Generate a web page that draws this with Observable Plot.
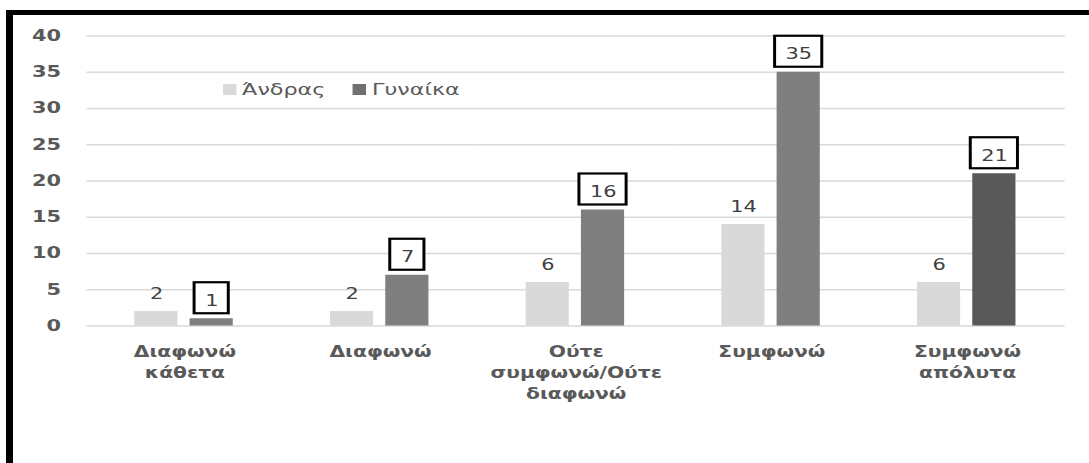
<!DOCTYPE html>
<html>
<head>
<meta charset="utf-8">
<script src="https://cdn.jsdelivr.net/npm/d3@7"></script>
<script src="https://cdn.jsdelivr.net/npm/@observablehq/plot@0.6"></script>
<style>
  html, body { margin: 0; padding: 0; background: #fff; }
  #wrap { position: relative; width: 1089px; height: 463px; overflow: hidden; }
  #wrap svg { position: absolute; left: 0; top: 0; }
  #frame { position: absolute; left: 6px; top: 10px; right: 0; bottom: 0;
           border-left: 7px solid #000; border-top: 5px solid #000; pointer-events: none; }
  #legend { position: absolute; left: 223px; top: 80px; transform-origin: 0 0;
            font-family: "DejaVu Sans", sans-serif; font-size: 16.5px; color: #595959; }
  #legend .sw { position: absolute; top: 4px; width: 10px; height: 11px; }
  #legend .lb { position: absolute; top: 0; white-space: nowrap; line-height: 19px; }
</style>
</head>
<body>
<div id="wrap"><div id="legend"></div><div id="frame"></div></div>
<script>
// Survey answers by gender
const categories = ["Διαφωνώ κάθετα", "Διαφωνώ", "Ούτε συμφωνώ/Ούτε διαφωνώ", "Συμφωνώ", "Συμφωνώ απόλυτα"];
const categoryLabels = ["Διαφωνώ\nκάθετα", "Διαφωνώ", "Ούτε\nσυμφωνώ/Ούτε\nδιαφωνώ", "Συμφωνώ", "Συμφωνώ\nαπόλυτα"];
const series = ["Άνδρας", "Γυναίκα"];
const andras = [2, 2, 6, 14, 6];
const gynaika = [1, 7, 16, 35, 21];
const yTicks = [0, 5, 10, 15, 20, 25, 30, 35, 40];

// Long-format table for the grouped bars
const rows = [];
categories.forEach((c, i) => {
  rows.push({category: c, gender: series[0], value: andras[i]});
  rows.push({category: c, gender: series[1], value: gynaika[i]});
});

const LIGHT = "#d9d9d9", MID = "#7f7f7f", DARK = "#595959";
const barFill = d => d.gender === series[0] ? LIGHT
  : d.category === categories[categories.length - 1] ? DARK : MID;

// The drawing is laid out on a narrower canvas and stretched to full width
const OUT_W = 1089, OUT_H = 463;
const W = 807;
const S = OUT_W / W;
const FONT = "DejaVu Sans, sans-serif";

const chart = Plot.plot({
  width: W,
  height: OUT_H,
  marginLeft: 83 / S,
  marginRight: W - 1067 / S,
  marginTop: 35.5,
  marginBottom: OUT_H - 325.5,
  style: {fontFamily: FONT, background: "transparent", overflow: "visible"},
  fx: {domain: categories, padding: 0, axis: null},
  x: {domain: series, paddingInner: 0.214, paddingOuter: 0.864, axis: null},
  y: {domain: [0, 40], axis: null},
  marks: [
    Plot.ruleY(yTicks, {stroke: "#d9d9d9", strokeWidth: 1.6}),
    Plot.axisY({
      ticks: yTicks, tickSize: 0, tickPadding: 83 / S - 57 / S,
      fontSize: 15.5, fontWeight: "bold", color: "#595959", label: null
    }),
    Plot.barY(rows, {fx: "category", x: "gender", y: "value", fill: barFill}),
    // boxed labels for the second series
    Plot.barY(rows.filter(d => d.gender === series[1] && d.value >= 10), {
      fx: "category", x: "gender", y1: "value", y2: "value",
      insetTop: -36, insetBottom: 5, insetLeft: -2 / S, insetRight: -2 / S,
      fill: "#fff", stroke: "#000", strokeWidth: 2.2
    }),
    Plot.barY(rows.filter(d => d.gender === series[1] && d.value < 10), {
      fx: "category", x: "gender", y1: "value", y2: "value",
      insetTop: -36, insetBottom: 5, insetLeft: 4.5 / S, insetRight: 4.5 / S,
      fill: "#fff", stroke: "#000", strokeWidth: 2.2
    }),
    Plot.text(rows, {
      fx: "category", x: "gender", y: "value", text: d => String(d.value),
      lineAnchor: "bottom", dy: -13, fontSize: 15.5, fill: "#404040"
    }),
    Plot.text(categories, {
      fx: d => d, text: (d, i) => categoryLabels[i],
      frameAnchor: "bottom", lineAnchor: "top", lineHeight: 1.4, dy: 15.6,
      fontSize: 15, fontWeight: "bold", fill: "#595959"
    })
  ]
});

chart.setAttribute("width", OUT_W);
chart.setAttribute("height", OUT_H);
chart.setAttribute("preserveAspectRatio", "none");
chart.style.width = OUT_W + "px";
chart.style.height = OUT_H + "px";

const wrap = document.getElementById("wrap");
wrap.insertBefore(chart, wrap.firstChild);

// Legend
const legend = document.getElementById("legend");
legend.style.transform = `scaleX(${S})`;
const items = [
  {label: series[0], color: LIGHT, sw: 0, lb: (242 - 223) / S},
  {label: series[1], color: "#707070", sw: (352 - 223) / S, lb: (372 - 223) / S}
];
for (const it of items) {
  const sw = document.createElement("div");
  sw.className = "sw";
  sw.style.left = it.sw + "px";
  sw.style.background = it.color;
  legend.appendChild(sw);
  const lb = document.createElement("div");
  lb.className = "lb";
  lb.style.left = it.lb + "px";
  lb.textContent = it.label;
  legend.appendChild(lb);
}
</script>
</body>
</html>
